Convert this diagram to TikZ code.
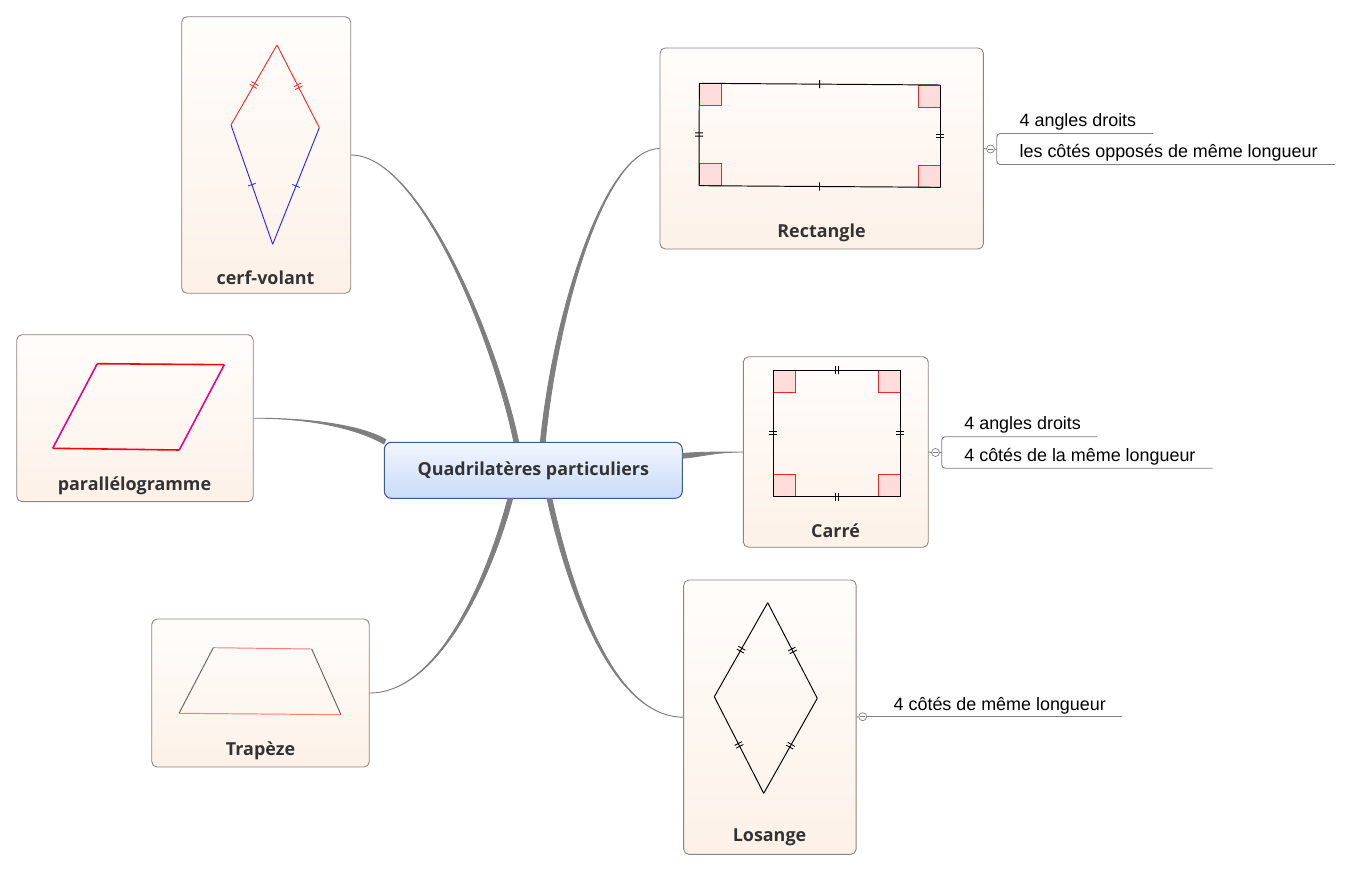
\documentclass[tikz,border=0pt]{standalone}
\usepackage{fontspec}
\setmainfont{Liberation Sans}
\newfontfamily\titlefont{Open Sans}
\usepackage{xcolor}
\usetikzlibrary{
	calc,
	positioning,
	decorations.markings
}

\definecolor{cardtop}{HTML}{FFFDFB}
\definecolor{cardbot}{HTML}{FDF1E8}
\definecolor{cardline}{HTML}{8C8480}
\definecolor{roottop}{HTML}{F2F6FE}
\definecolor{rootbot}{HTML}{C9DBF8}
\definecolor{rootline}{HTML}{3A5A98}
\definecolor{branchgray}{HTML}{7F7F7F}
\definecolor{angfill}{HTML}{FDDCDC}
\definecolor{angline}{HTML}{F52525}
\definecolor{kitered}{HTML}{FF2A2A}
\definecolor{kiteblue}{HTML}{2A2AFF}
\definecolor{trapred}{HTML}{FF7A7A}
\definecolor{textcol}{HTML}{333333}

\tikzset{
	card/.style={draw=cardline, line width=0.5pt, rounded corners=3pt,
		top color=cardtop, bottom color=cardbot, inner sep=0pt},
	cardlabel/.style={font=\titlefont\bfseries\fontsize{10.2}{12}\selectfont,
		text=textcol, inner sep=0pt},
	leaf/.style={font=\fontsize{10.2}{12}\selectfont, anchor=west, inner sep=0pt},
	leafline/.style={draw=branchgray, line width=0.5pt},
	fold/.style={circle, draw=branchgray, fill=white, line width=0.4pt,
		minimum size=0.16cm, inner sep=0pt,
		path picture={\draw[branchgray, line width=0.3pt]
			([xshift=1pt]path picture bounding box.west) --
			([xshift=-1pt]path picture bounding box.east);}},
	branch/.style={fill=branchgray, draw=branchgray, line width=0.5pt},
	figline/.style={line width=0.55pt},
	rightmark/.style={draw=angline, fill=angfill, line width=0.55pt},
	onetick/.style={postaction={decorate, decoration={markings,
		mark=at position 0.5 with {\draw[line width=0.5pt] (0,-2.3pt) -- (0,2.3pt);}}}},
	twotick/.style={postaction={decorate, decoration={markings,
		mark=at position 0.5 with {\draw[line width=0.5pt]
			(-0.9pt,-2.3pt) -- (-0.9pt,2.3pt) (0.9pt,-2.3pt) -- (0.9pt,2.3pt);}}}}
}

% tapered branch: start, control 1, control 2, end, half width at the end
\newcommand{\branch}[5]{%
	\filldraw[branch] (#1) .. controls (#2) and ($(#3)+(#5)$) .. ($(#4)+(#5)$)
		-- ($(#4)-(#5)$) .. controls ($(#3)-(#5)$) and (#2) .. (#1) -- cycle;}

\begin{document}
\begin{tikzpicture}[x=0.02cm, y=-0.02cm]
	\useasboundingbox (0,0) rectangle (1351,871);

	% central topic
	\node[draw=rootline, line width=0.6pt, rounded corners=4pt, top color=roottop,
		bottom color=rootbot, minimum width=5.96cm, minimum height=1.12cm,
		font=\titlefont\bfseries\fontsize{10.2}{12}\selectfont, text=textcol]
		(root) at (533.3,470.3) {\raisebox{-2pt}{Quadrilatères particuliers}};

	% cards
	\node[card, minimum width=3.38cm, minimum height=5.53cm] (cv) at (266.2,155) {};
	\node[card, minimum width=6.47cm, minimum height=4.02cm] (rect) at (821.7,148.5) {};
	\node[card, minimum width=3.70cm, minimum height=3.81cm] (carre) at (835.8,452) {};
	\node[card, minimum width=3.45cm, minimum height=5.49cm] (los) at (769.9,717.2) {};
	\node[card, minimum width=4.73cm, minimum height=3.34cm] (para) at (135,418.2) {};
	\node[card, minimum width=4.35cm, minimum height=2.96cm] (trap) at (260.5,693) {};

	\node[cardlabel] (cv-lbl) at (265.5,277.5) {cerf-volant};
	\node[cardlabel] (rect-lbl) at (821.5,232.5) {Rectangle};
	\node[cardlabel] (carre-lbl) at (835.5,530.5) {Carré};
	\node[cardlabel] (los-lbl) at (769.5,837.5) {Losange};
	\node[cardlabel] (para-lbl) at (134.5,485.5) {parallélogramme};
	\node[cardlabel] (trap-lbl) at (260.5,750.5) {Trapèze};

	% branches
	\coordinate (end-cv) at ($(root.north west)+(132.4,0)$);
	\coordinate (end-rect) at ($(root.north west)+(159,0)$);
	\coordinate (end-trap) at ($(root.south west)+(126.4,0)$);
	\coordinate (end-los) at ($(root.south west)+(165.7,0)$);
	\coordinate (end-para) at ($(root.north west)+(1,0)$);
	\coordinate (end-carre) at ($(root.north east)+(0,14)$);
	\branch{cv.east}{420,155}{495,340}{end-cv}{2.4,0}
	\branch{rect.west}{605,148.5}{556,310}{end-rect}{2.4,0}
	\branch{trap.east}{440,693}{490,575}{end-trap}{2.4,0}
	\branch{los.west}{615,717}{572,600}{end-los}{2.4,0}
	\branch{para.east}{320,418}{365,430}{end-para}{-1,2.2}
	\branch{carre.west}{715,452}{700,454.5}{end-carre}{0,2.4}

	% cerf-volant
	\draw[figline, kitered, twotick] (277,45) -- (231,125);
	\draw[figline, kitered, twotick] (277,45) -- (319.3,127.7);
	\draw[figline, kiteblue, onetick] (231,125) -- (272.7,244.3);
	\draw[figline, kiteblue, onetick] (319.3,127.7) -- (272.7,244.3);

	% rectangle
	\filldraw[rightmark] (699.3,83.3) rectangle ++(22,22);
	\filldraw[rightmark] (940,85) rectangle ++(-22,22);
	\filldraw[rightmark] (699,185.7) rectangle ++(22,-22);
	\filldraw[rightmark] (940,187.3) rectangle ++(-22,-22);
	\draw[figline, onetick] (699.3,83.3) -- (940,85);
	\draw[figline, twotick] (940,85) -- (940,187.3);
	\draw[figline, onetick] (940,187.3) -- (699,185.7);
	\draw[figline, twotick] (699,185.7) -- (699.3,83.3);

	% carre
	\filldraw[rightmark] (773.3,370) rectangle ++(22,22);
	\filldraw[rightmark] (900,370) rectangle ++(-22,22);
	\filldraw[rightmark] (773.3,496.7) rectangle ++(22,-22);
	\filldraw[rightmark] (900,496.7) rectangle ++(-22,-22);
	\draw[figline, twotick] (773.3,370) -- (900,370);
	\draw[figline, twotick] (900,370) -- (900,496.7);
	\draw[figline, twotick] (900,496.7) -- (773.3,496.7);
	\draw[figline, twotick] (773.3,496.7) -- (773.3,370);

	% losange
	\draw[figline, twotick] (767.7,602.7) -- (714.3,696.7);
	\draw[figline, twotick] (767.7,602.7) -- (817.3,698.3);
	\draw[figline, twotick] (714.3,696.7) -- (763.7,793.3);
	\draw[figline, twotick] (817.3,698.3) -- (763.7,793.3);

	% parallelogramme
	\draw[line width=0.9pt, red] (97.3,363.7) -- (224.3,364.7);
	\draw[line width=0.9pt, red] (179.3,450) -- (52.7,448.3);
	\draw[line width=0.9pt, magenta] (224.3,364.7) -- (179.3,450);
	\draw[line width=0.9pt, magenta] (52.7,448.3) -- (97.3,363.7);

	% trapeze
	\draw[figline, trapred] (213.3,647.7) -- (311.7,649);
	\draw[figline, trapred] (341,714.7) -- (179,713.3);
	\draw[figline, black!60] (311.7,649) -- (341,714.7);
	\draw[figline, black!60] (179,713.3) -- (213.3,647.7);

	% notes of the rectangle
	\node[fold] (rect-fold) at (990.5,149) {};
	\draw[leafline] (rect.east) -- (rect-fold.west);
	\draw[leafline] (rect-fold.east) -- (996.7,149);
	\draw[leafline, rounded corners=2pt] (1153,133.5) -- (996.7,133.5)
		-- (996.7,164.5) -- (1335,164.5);
	\node[leaf] (rect-n1) at (1019.3,122) {4 angles droits};
	\node[leaf] (rect-n2) at (1019.3,152.5) {les côtés opposés de même longueur};

	% notes of the carre
	\node[fold] (carre-fold) at (935.5,452.5) {};
	\draw[leafline] (carre.east) -- (carre-fold.west);
	\draw[leafline] (carre-fold.east) -- (941.7,452.5);
	\draw[leafline, rounded corners=2pt] (1097.3,436.7) -- (941.7,436.7)
		-- (941.7,468.3) -- (1212.7,468.3);
	\node[leaf] (carre-n1) at (964,425.3) {4 angles droits};
	\node[leaf] (carre-n2) at (964,456.3) {4 côtés de la même longueur};

	% note of the losange
	\node[fold] (los-fold) at (862.7,716.7) {};
	\draw[leafline] (los.east) -- (los-fold.west);
	\draw[leafline] (los-fold.east) -- (1121.7,716.7);
	\node[leaf] (los-n1) at (893.3,705.3) {4 côtés de même longueur};
\end{tikzpicture}
\end{document}
